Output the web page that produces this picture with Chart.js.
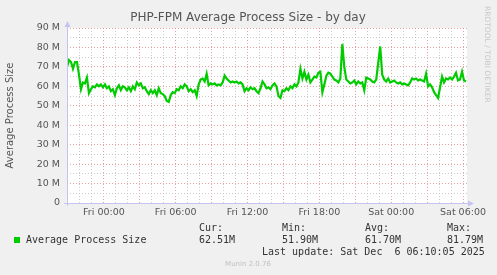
<!DOCTYPE html>
<html>
<head>
<meta charset="utf-8">
<script src="https://cdn.jsdelivr.net/npm/chart.js@4/dist/chart.umd.min.js"></script>
<style>
  body { margin: 0; background: #f0f0f0; }
  canvas { display: block; }
</style>
</head>
<body>
<canvas id="chart" width="497" height="275"></canvas>
<script>
// hours relative to Fri 00:00, one sample every 10 minutes
const startHour = -37 / 12;
const stepHours = 1 / 6;

// average process size in M
const sizeValues = [
  70, 73.5, 72.5, 69, 72.5, 72.5, 66, 58.5, 62, 61.5,
  64.5, 56.5, 58.5, 60, 59.5, 61, 60, 61, 59.5, 61,
  59, 60, 57.5, 58.5, 55.5, 59, 60.5, 58, 60, 59.5,
  58, 59.5, 57.5, 60, 58.5, 62, 60.5, 61.5, 59, 59.5,
  57.5, 56, 58, 56.5, 58, 55.5, 59, 56.5, 56, 55,
  52.5, 52, 55.5, 57, 56.5, 58.5, 58, 60, 59, 61,
  60, 57.5, 58.5, 57, 58, 55, 61, 63.5, 64, 62.5,
  66.5, 60.5, 61.5, 61, 61.5, 60.5, 61, 60.5, 62, 65.5,
  64, 63, 62, 62.5, 62, 62.5, 61.5, 62, 61, 57.5,
  59, 58, 59.5, 58.5, 59, 57.5, 56.5, 59, 62.5, 61,
  59, 59.5, 58.5, 60.5, 61.5, 60, 55, 54, 58, 57.5,
  59, 58, 60, 59, 61, 60, 62, 69, 64, 67.5,
  63.5, 66, 62, 63.5, 65, 64.5, 67, 67.5, 57, 61,
  65.5, 67, 66.5, 65, 63.5, 63, 62, 64, 81.8, 70,
  63.5, 62.5, 61.5, 62, 63, 61, 62.5, 61.5, 62, 58,
  64.5, 64, 63.5, 62.5, 62, 63.5, 72, 80.5, 66, 63.5,
  62.5, 64, 62, 62.5, 63, 62, 61.5, 62, 61, 61.5,
  61, 60.5, 62, 64, 63.5, 64, 63, 63.5, 63, 62.5,
  66.5, 60, 61, 59.5, 57, 55.5, 54, 59.5, 65, 62,
  64, 63.5, 64.5, 63.5, 65, 67, 63, 63.5, 67.5, 63,
  62.5
];

const tickLabels = { 0: "Fri 00:00", 6: "Fri 06:00", 12: "Fri 12:00", 18: "Fri 18:00", 24: "Sat 00:00", 30: "Sat 06:00" };
const legendHeads = ["Cur:", "Min:", "Avg:", "Max:"];
const legendValues = ["62.51M", "51.90M", "61.70M", "81.79M"];
const seriesName = "Average Process Size";
const titleText = "PHP-FPM Average Process Size - by day";
const lastUpdate = "Last update: Sat Dec  6 06:10:05 2025";

const majorGrid = "rgba(225,130,130,0.75)";
const minorGrid = "rgba(190,190,190,0.8)";
const axisColor = "#c4c4ee";
const sansFont = "DejaVu Sans";
const monoFont = "DejaVu Sans Mono";

const decor = {
  id: "decor",
  beforeDraw(chart) {
    const c = chart.ctx, a = chart.chartArea;
    c.save();
    c.fillStyle = "#ffffff";
    c.fillRect(a.left, a.top, a.right - a.left, a.bottom - a.top);
    c.restore();
  },
  afterDraw(chart) {
    const c = chart.ctx, a = chart.chartArea;
    c.save();
    // axes with arrows
    c.strokeStyle = axisColor;
    c.fillStyle = axisColor;
    c.lineWidth = 1;
    c.beginPath();
    c.moveTo(a.left + 0.5, a.bottom + 3);
    c.lineTo(a.left + 0.5, a.top - 3);
    c.moveTo(a.left - 3, a.bottom + 0.5);
    c.lineTo(a.right + 3, a.bottom + 0.5);
    c.stroke();
    c.beginPath();
    c.moveTo(a.left + 0.5, a.top - 7);
    c.lineTo(a.left - 2.5, a.top - 1);
    c.lineTo(a.left + 3.5, a.top - 1);
    c.fill();
    c.beginPath();
    c.moveTo(a.right + 7, a.bottom + 0.5);
    c.lineTo(a.right + 1, a.bottom - 2.5);
    c.lineTo(a.right + 1, a.bottom + 3.5);
    c.fill();

    // title
    c.fillStyle = "#555555";
    c.font = "12px '" + sansFont + "'";
    c.textAlign = "center";
    c.textBaseline = "middle";
    c.fillText(titleText, 248, 18);

    // y axis title
    c.save();
    c.translate(10, (a.top + a.bottom) / 2);
    c.rotate(-Math.PI / 2);
    c.font = "10px '" + sansFont + "'";
    c.fillText(seriesName, 0, 0);
    c.restore();

    // rrdtool credit
    c.save();
    c.translate(487, 6);
    c.rotate(Math.PI / 2);
    c.fillStyle = "#c8c8c8";
    c.font = "7.5px '" + sansFont + "'";
    c.textAlign = "left";
    c.fillText("RRDTOOL / TOBI OETIKER", 0, 0);
    c.restore();

    // legend
    c.fillStyle = "#00cc00";
    c.fillRect(14, 237, 6, 6);
    c.fillStyle = "#333333";
    c.font = "10px '" + monoFont + "'";
    c.textAlign = "left";
    c.fillText(seriesName, 26, 240);
    const cols = [199, 282, 365, 447];
    legendHeads.forEach((h, i) => {
      c.fillText(h, cols[i], 228);
      c.fillText(legendValues[i], cols[i], 240);
    });
    c.fillText(lastUpdate, 262, 252);

    c.fillStyle = "#c0c0c0";
    c.font = "7px '" + sansFont + "'";
    c.textAlign = "center";
    c.fillText("Munin 2.0.76", 248, 264);
    c.restore();
  }
};

new Chart(document.getElementById("chart").getContext("2d"), {
  type: "line",
  data: {
    datasets: [{
      label: seriesName,
      data: sizeValues.map((v, i) => ({ x: startHour + i * stepHours, y: v })),
      borderColor: "#00cc00",
      borderWidth: 2.2,
      pointRadius: 0,
      tension: 0,
      fill: false
    }]
  },
  options: {
    responsive: false,
    devicePixelRatio: 1,
    animation: false,
    layout: { padding: { top: 28, right: 30, left: 0, bottom: 0 } },
    plugins: { legend: { display: false }, tooltip: { enabled: false } },
    scales: {
      x: {
        type: "linear",
        min: startHour,
        max: startHour + (sizeValues.length - 1) * stepHours + 0.0833,
        afterFit: (s) => { s.height = 72; },
        afterBuildTicks: (s) => {
          const t = [];
          for (let h = -3; h <= 30; h++) t.push({ value: h });
          s.ticks = t;
        },
        grid: {
          drawTicks: false,
          color: (ctx) => (ctx.tick && ctx.tick.value % 3 === 0 ? majorGrid : minorGrid)
        },
        border: { display: false, dash: [1, 2] },
        ticks: {
          autoSkip: false,
          maxRotation: 0,
          padding: 4,
          color: "#555555",
          font: { family: sansFont, size: 9.5 },
          callback: (v) => tickLabels[v] || ""
        }
      },
      y: {
        min: 0,
        max: 90,
        afterFit: (s) => { s.width = 67; },
        grid: {
          drawTicks: false,
          color: (ctx) => (ctx.tick && ctx.tick.value % 10 === 0 ? majorGrid : minorGrid)
        },
        border: { display: false, dash: [1, 2] },
        ticks: {
          stepSize: 5,
          autoSkip: false,
          padding: 7,
          color: "#555555",
          font: { family: sansFont, size: 9.5 },
          callback: (v) => (v % 10 === 0 ? (v === 0 ? "0" : v + " M") : "")
        }
      }
    }
  },
  plugins: [decor]
});
</script>
</body>
</html>
